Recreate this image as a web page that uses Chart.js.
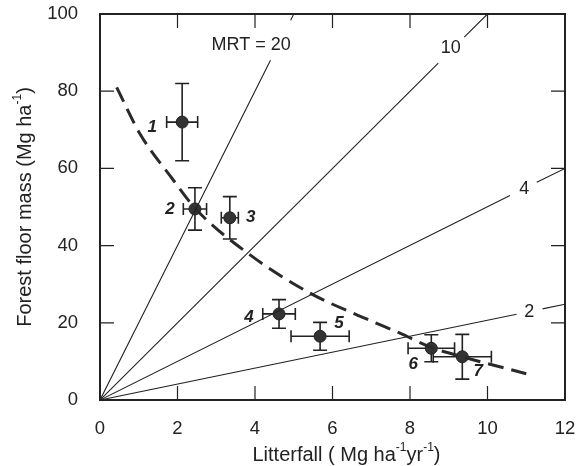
<!DOCTYPE html>
<html>
<head>
<meta charset="utf-8">
<script src="https://cdn.jsdelivr.net/npm/chart.js@4/dist/chart.umd.min.js"></script>
<style>
  html, body { margin: 0; padding: 0; background: #fff; }
  #wrap { width: 579px; height: 466px; position: relative; }
</style>
</head>
<body>
<div id="wrap"><canvas id="chart"></canvas></div>
<script>
// --- Data ---
const siteIds = ["1", "2", "3", "4", "5", "6", "7"];
const litterfall = [2.12, 2.45, 3.35, 4.62, 5.68, 8.55, 9.35];
const floorMass = [72, 49.5, 47.2, 22.3, 16.5, 13.4, 11.2];
const litterErr = [0.4, 0.3, 0.22, 0.42, 0.75, 0.6, 0.75];
const massErr = [10, 5.5, 5.5, 3.7, 3.6, 3.5, 5.8];

// MRT reference lines from origin (segments broken where the label sits)
const mrtNames = ["MRT = 20", "10", "4", "2"];
const mrtX = [
  [0, 4.4, null, 4.92, 5],
  [0, 8.73, null, 9.4, 10],
  [0, 10.58, null, 11.27, 12],
  [0, 10.75, null, 11.42, 12],
];
const mrtY = [
  [0, 88, null, 98.4, 100],
  [0, 87.3, null, 94, 100],
  [0, 53, null, 56.4, 60],
  [0, 22.2, null, 23.6, 24.8],
];
const mrtLabelX = [3.9, 9.05, 10.95, 11.08];
const mrtLabelY = [92, 91.3, 54.7, 22.9];

// dashed fitted curve
const curveX = [0.43, 1.03, 1.89, 2.47, 3.79, 5.42, 6.88, 7.74, 8.58, 9.35, 11];
const curveY = [81, 69, 57, 49.5, 38.2, 27.7, 21, 17.3, 13.5, 11.2, 6.8];

const xTicks = [0, 2, 4, 6, 8, 10, 12];
const yTicks = [0, 20, 40, 60, 80, 100];

// axis titles, as [text, isSuperscript] runs
const xTitle = [["Litterfall ( Mg ha", false], ["-1", true], ["yr", false], ["-1", true], [")", false]];
const yTitle = [["Forest floor mass (Mg ha", false], ["-1", true], [")", false]];

// label offsets (px) of site numbers from their points
const idOffsets = [[-30, 5], [-25, 0], [21, 0], [-30, 3], [19, -13], [-18, 16], [16, 15]];

const INK = "#222";
const FONT = "'Liberation Sans', Arial, Helvetica, sans-serif";

const toXY = (xs, ys) => xs.map((x, i) => ({ x: x === null ? NaN : x, y: ys[i] }));

const datasets = [];
mrtX.forEach((xs, i) => {
  datasets.push({
    type: "line",
    label: mrtNames[i],
    data: toXY(xs, mrtY[i]),
    borderColor: INK,
    borderWidth: 1.1,
    pointRadius: 0,
    spanGaps: false,
    tension: 0,
  });
});
datasets.push({
  type: "line",
  label: "fit",
  data: toXY(curveX, curveY),
  borderColor: "#2a2a2a",
  borderWidth: 3,
  borderDash: [16, 8],
  pointRadius: 0,
  cubicInterpolationMode: "monotone",
});
datasets.push({
  type: "scatter",
  label: "sites",
  data: toXY(litterfall, floorMass),
  backgroundColor: "#333",
  borderColor: "#222",
  borderWidth: 1,
  pointRadius: 6,
});

// draw text runs with raised superscripts, centred on (cx, cy)
function drawRuns(ctx, runs, cx, cy, size) {
  const big = size + "px " + FONT;
  const small = Math.round(size * 0.62) + "px " + FONT;
  let total = 0;
  runs.forEach(([t, sup]) => { ctx.font = sup ? small : big; total += ctx.measureText(t).width; });
  let x = cx - total / 2;
  ctx.textAlign = "left";
  ctx.textBaseline = "middle";
  runs.forEach(([t, sup]) => {
    ctx.font = sup ? small : big;
    ctx.fillText(t, x, sup ? cy - size * 0.38 : cy);
    x += ctx.measureText(t).width;
  });
}

// --- Frame, inward ticks, error bars and text labels ---
const decor = {
  id: "decor",
  beforeDatasetsDraw(chart) {
    const { ctx, scales: { x, y } } = chart;
    ctx.save();
    ctx.strokeStyle = INK;
    ctx.lineWidth = 1.6;
    litterfall.forEach((lx, i) => {
      const px = x.getPixelForValue(lx);
      const py = y.getPixelForValue(floorMass[i]);
      const x0 = x.getPixelForValue(lx - litterErr[i]);
      const x1 = x.getPixelForValue(lx + litterErr[i]);
      const y0 = y.getPixelForValue(floorMass[i] - massErr[i]);
      const y1 = y.getPixelForValue(floorMass[i] + massErr[i]);
      ctx.beginPath();
      ctx.moveTo(x0, py); ctx.lineTo(x1, py);
      ctx.moveTo(x0, py - 6); ctx.lineTo(x0, py + 6);
      ctx.moveTo(x1, py - 6); ctx.lineTo(x1, py + 6);
      ctx.moveTo(px, y0); ctx.lineTo(px, y1);
      ctx.moveTo(px - 7, y0); ctx.lineTo(px + 7, y0);
      ctx.moveTo(px - 7, y1); ctx.lineTo(px + 7, y1);
      ctx.stroke();
    });
    ctx.restore();
  },
  afterDatasetsDraw(chart) {
    const { ctx, chartArea: a, scales: { x, y } } = chart;
    ctx.save();
    ctx.strokeStyle = INK;
    ctx.lineWidth = 1.2;
    ctx.beginPath();
    xTicks.slice(1, -1).forEach((v) => {
      const px = x.getPixelForValue(v);
      ctx.moveTo(px, a.bottom); ctx.lineTo(px, a.bottom - 14);
      ctx.moveTo(px, a.top); ctx.lineTo(px, a.top + 14);
    });
    yTicks.slice(1, -1).forEach((v) => {
      const py = y.getPixelForValue(v);
      ctx.moveTo(a.left, py); ctx.lineTo(a.left + 14, py);
      ctx.moveTo(a.right, py); ctx.lineTo(a.right - 14, py);
    });
    ctx.stroke();
    ctx.lineWidth = 2;
    ctx.strokeRect(a.left, a.top, a.right - a.left, a.bottom - a.top);

    ctx.fillStyle = INK;
    ctx.textAlign = "center";
    ctx.textBaseline = "middle";
    ctx.font = "18px " + FONT;
    mrtNames.forEach((name, i) => {
      ctx.fillText(name, x.getPixelForValue(mrtLabelX[i]), y.getPixelForValue(mrtLabelY[i]));
    });
    ctx.font = "italic bold 17px " + FONT;
    siteIds.forEach((id, i) => {
      const px = x.getPixelForValue(litterfall[i]) + idOffsets[i][0];
      const py = y.getPixelForValue(floorMass[i]) + idOffsets[i][1];
      ctx.fillText(id, px, py);
    });

    // axis titles
    drawRuns(ctx, xTitle, (a.left + a.right) / 2 + 14, a.bottom + 55, 20);
    ctx.translate(25, (a.top + a.bottom) / 2);
    ctx.rotate(-Math.PI / 2);
    drawRuns(ctx, yTitle, 0, 0, 20);
    ctx.restore();
  },
};

new Chart(document.getElementById("chart"), {
  type: "scatter",
  data: { datasets },
  options: {
    responsive: true,
    maintainAspectRatio: false,
    animation: false,
    layout: { padding: { top: 14, right: 14, left: 0, bottom: 0 } },
    plugins: { legend: { display: false }, tooltip: { enabled: false } },
    scales: {
      x: {
        type: "linear",
        min: 0,
        max: 12,
        afterBuildTicks: (s) => { s.ticks = xTicks.map((v) => ({ value: v })); },
        afterFit: (s) => { s.height = 66; s.paddingLeft = 0; s.paddingRight = 0; },
        grid: { display: false },
        border: { display: false },
        ticks: { color: INK, font: { family: FONT, size: 18.5 }, padding: 10, maxRotation: 0 },
      },
      y: {
        type: "linear",
        min: 0,
        max: 100,
        afterBuildTicks: (s) => { s.ticks = yTicks.map((v) => ({ value: v })); },
        afterFit: (s) => { s.width = 100; s.paddingTop = 0; s.paddingBottom = 0; },
        grid: { display: false },
        border: { display: false },
        ticks: { color: INK, font: { family: FONT, size: 18.5 }, padding: 14 },
      },
    },
  },
  plugins: [decor],
});
</script>
</body>
</html>
